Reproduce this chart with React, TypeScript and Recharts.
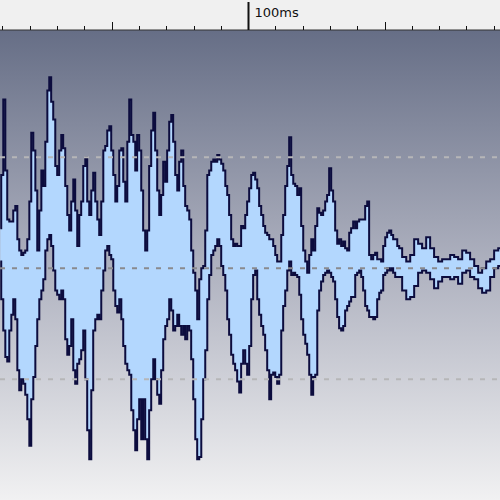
import {
  ComposedChart,
  Area,
  XAxis,
  YAxis,
  CartesianGrid,
  ReferenceLine,
} from "recharts";

// sample times (ms) of the min/max columns
const timeMs = [
  9.2, 9.9, 10.7, 11.4, 12.1, 12.9, 13.6, 14.3, 15.1, 15.8,
  16.5, 17.3, 18.0, 18.7, 19.5, 20.2, 20.9, 21.7, 22.4, 23.1,
  23.9, 24.6, 25.3, 26.1, 26.8, 27.5, 28.2, 29.0, 29.7, 30.4,
  31.2, 31.9, 32.6, 33.4, 34.1, 34.8, 35.6, 36.3, 37.0, 37.8,
  38.5, 39.2, 40.0, 40.7, 41.4, 42.2, 42.9, 43.6, 44.4, 45.1,
  45.8, 46.6, 47.3, 48.0, 48.8, 49.5, 50.2, 51.0, 51.7, 52.4,
  53.2, 53.9, 54.6, 55.4, 56.1, 56.8, 57.6, 58.3, 59.0, 59.7,
  60.5, 61.2, 61.9, 62.7, 63.4, 64.1, 64.9, 65.6, 66.3, 67.1,
  67.8, 68.5, 69.3, 70.0, 70.7, 71.5, 72.2, 72.9, 73.7, 74.4,
  75.1, 75.9, 76.6, 77.3, 78.1, 78.8, 79.5, 80.3, 81.0, 81.7,
  82.5, 83.2, 83.9, 84.7, 85.4, 86.1, 86.9, 87.6, 88.3, 89.1,
  89.8, 90.5, 91.3, 92.0, 92.7, 93.4, 94.2, 94.9, 95.6, 96.4,
  97.1, 97.8, 98.6, 99.3, 100.0, 100.8, 101.5, 102.2, 103.0, 103.7,
  104.4, 105.2, 105.9, 106.6, 107.4, 108.1, 108.8, 109.6, 110.3, 111.0,
  111.8, 112.5, 113.2, 114.0, 114.7, 115.4, 116.2, 116.9, 117.6, 118.4,
  119.1, 119.8, 120.6, 121.3, 122.0, 122.8, 123.5, 124.2, 125.0, 125.7,
  126.4, 127.1, 127.9, 128.6, 129.3, 130.1, 130.8, 131.5, 132.3, 133.0,
  133.7, 134.5, 135.2, 135.9, 136.7, 137.4, 138.1, 138.9, 139.6, 140.3,
  141.1, 141.8, 142.5, 143.3, 144.0, 144.7, 145.5, 146.2, 146.9, 147.7,
  148.4, 149.1, 149.9, 150.6, 151.3, 152.1, 152.8, 153.5, 154.3, 155.0,
  155.7, 157.2, 158.7, 160.1, 161.6, 163.0, 164.5, 166.0, 167.4, 168.9,
  170.4, 171.8, 173.3, 174.8, 176.2, 177.7, 179.2, 180.6, 182.1, 183.6,
  185.0, 186.5, 188.0, 189.4, 190.9, 192.4,
];

// peak level per column, % of full scale
const upper = [
  18, 42, 76, 44, 22, 21, 21, 26, 28, 13,
  8, 6, 7, 8, 13, 30, 61, 53, 35, 8,
  26, 44, 37, 57, 80, 86, 75, 67, 46, 42,
  53, 60, 54, 37, 24, 17, 30, 40, 26, 10,
  24, 30, 46, 50, 30, 24, 35, 43, 30, 22,
  15, 30, 53, 55, 62, 64, 53, 42, 30, 37,
  53, 54, 39, 30, 57, 76, 60, 57, 44, 60,
  53, 35, 17, 8, 17, 46, 62, 70, 53, 35,
  24, 33, 48, 39, 53, 66, 69, 57, 42, 35,
  48, 53, 37, 28, 26, 22, 8, -2, -10, -23,
  -5, 0, 1, 17, 42, 44, 48, 49, 48, 51,
  49, 47, 44, 37, 33, 24, 13, 10, 11, 10,
  10, 19, 18, 24, 30, 36, 42, 43, 40, 36,
  28, 24, 19, 16, 15, 13, 13, 10, 6, 3,
  3, 15, 24, 37, 46, 59, 42, 38, 37, 33,
  36, 19, 8, 3, -2, 6, 13, 8, 19, 27,
  25, 24, 26, 30, 33, 45, 35, 30, 17, 11,
  13, 10, 12, 9, 8, 16, 18, 21, 18, 21,
  22, 22, 22, 28, 30, 6, 4, 6, 7, 4,
  4, 3, 10, 14, 16, 17, 15, 13, 13, 10,
  9, 5, 3, 6, 13, 11, 9, 14, 9, 5,
  3, 4, 4, 6, 5, 4, 8, 7, 4, 1,
  -2, 0, 3, 4, 8, 9,
];

// trough level per column, % of full scale
const lower = [
  3, -14, -28, -40, -42, -28, -21, -14, -23, -46,
  -55, -50, -52, -57, -68, -80, -59, -49, -35, -23,
  -14, -10, -5, 8, 13, 15, 10, -1, -10, -12,
  -14, -10, -14, -32, -39, -35, -23, -46, -52, -43,
  -41, -37, -28, -50, -73, -86, -55, -28, -23, -21,
  -23, -10, -1, 8, 10, 6, 4, -10, -17, -20,
  -14, -23, -35, -43, -46, -48, -64, -73, -82, -68,
  -59, -77, -59, -77, -86, -64, -50, -41, -50, -57,
  -61, -46, -32, -26, -23, -14, -19, -28, -26, -21,
  -26, -30, -26, -32, -26, -28, -41, -59, -77, -86,
  -85, -68, -50, -37, -14, -3, 6, 8, 10, 13,
  10, 1, -3, -10, -23, -30, -39, -43, -46, -51,
  -56, -43, -37, -43, -48, -35, -14, -3, -1, -14,
  -21, -26, -30, -37, -46, -59, -48, -47, -49, -52,
  -48, -28, -17, -10, -1, 3, -3, -2, -3, -4,
  -12, -23, -30, -34, -39, -48, -57, -49, -48, -19,
  -10, -6, -3, -2, -1, -2, -4, -6, -14, -22,
  -27, -28, -26, -19, -17, -15, -13, -13, -3, -2,
  -1, -4, -10, -17, -19, -22, -22, -23, -22, -14,
  -11, -10, -3, -2, 0, -1, 0, -2, -4, -4,
  -4, -10, -14, -13, -8, -2, -1, -2, -5, -9,
  -6, -4, -4, -5, -4, -7, -2, -1, -4, -5,
  -9, -11, -10, -4, 0, 1,
];

const rulerTicks = [
  10, 20, 30, 40, 50, 60, 70, 80, 90, 100,
  110, 120, 130, 140, 150, 160, 170, 180, 190,
];
const labelledTick = 100;
const levelLines = [50, 0, -50];

const data = timeMs.map((t, i) => ({ t, range: [lower[i], upper[i]] }));

function RulerTick({ x, payload }: { x?: number; payload?: { value: number } }) {
  const v = payload?.value ?? 0;
  const px = Math.round(x ?? 0) + 0.5;
  const top = v === labelledTick ? 2 : v % 50 === 0 ? 22 : 26;
  return (
    <g>
      <line
        x1={px}
        x2={px}
        y1={top}
        y2={30}
        stroke="#111"
        strokeWidth={v === labelledTick ? 2 : 1}
      />
      {v === labelledTick && (
        <text
          x={px + 6}
          y={17}
          fontSize={13}
          fontFamily="DejaVu Sans, sans-serif"
          fill="#111"
        >
          {v}ms
        </text>
      )}
    </g>
  );
}

export default function App() {
  return (
    <div
      style={{
        position: "absolute",
        top: 0,
        left: 0,
        width: 500,
        height: 500,
        background: "#f0f0f0",
      }}
    >
      <ComposedChart
        width={500}
        height={500}
        data={data}
        margin={{ top: 0, right: 0, left: 0, bottom: 0 }}
      >
        <defs>
          <linearGradient id="waveBg" x1="0" y1="0" x2="0" y2="1">
            <stop offset="0%" stopColor="#666e86" />
            <stop offset="50%" stopColor="#aeb1bf" />
            <stop offset="100%" stopColor="#f1f1f2" />
          </linearGradient>
        </defs>

        <CartesianGrid
          horizontal={false}
          vertical={false}
          fill="url(#waveBg)"
          stroke="none"
        />

        <XAxis
          dataKey="t"
          type="number"
          orientation="top"
          domain={[9.1, 192.3]}
          allowDataOverflow
          ticks={rulerTicks}
          interval={0}
          height={30}
          tick={<RulerTick />}
          tickLine={false}
          axisLine={{ stroke: "#333" }}
        />
        <YAxis hide domain={[-104.4, 107.3]} allowDataOverflow />

        {levelLines.map((lv) => (
          <ReferenceLine
            key={lv}
            y={lv}
            stroke={lv === 0 ? "#8a8a8e" : "#b6b6b8"}
            strokeWidth={2}
            strokeDasharray="5 7"
          />
        ))}

        <Area
          dataKey="range"
          type="step"
          stroke="#0c0c3e"
          strokeWidth={2}
          fill="#b3d7fe"
          fillOpacity={1}
          dot={false}
          activeDot={false}
          isAnimationActive={false}
        />
      </ComposedChart>
    </div>
  );
}
